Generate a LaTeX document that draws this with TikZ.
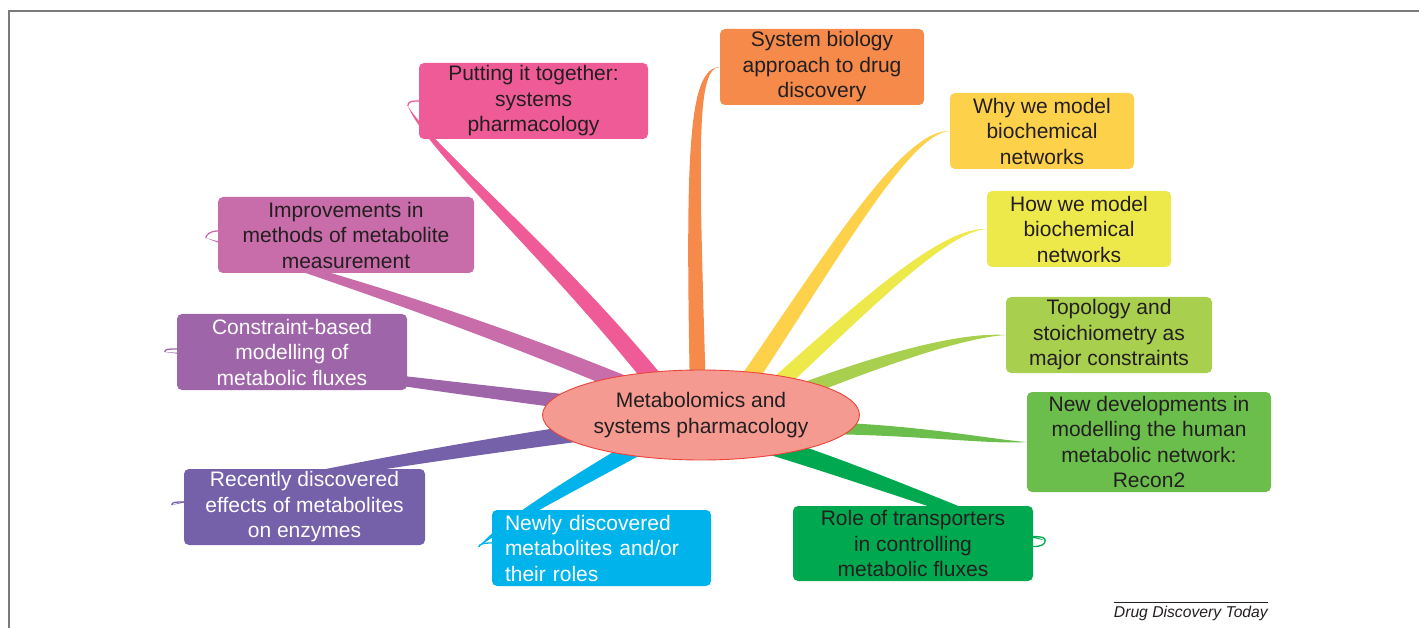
\documentclass[tikz,border=0pt]{standalone}
\usepackage{fontspec}
\setmainfont{Liberation Sans}
\usetikzlibrary{shapes.geometric, calc, backgrounds}

\definecolor{ink}{HTML}{231F20}
\definecolor{frame}{HTML}{7A7A7A}
\definecolor{cHub}{HTML}{F59A91}
\definecolor{cHubLine}{HTML}{E9433A}
\definecolor{cOrange}{HTML}{F58A4B}
\definecolor{cWhy}{HTML}{FDD14A}
\definecolor{cHow}{HTML}{EEE94B}
\definecolor{cTopo}{HTML}{A9CF4F}
\definecolor{cNewdev}{HTML}{6BBE4B}
\definecolor{cRole}{HTML}{00A94F}
\definecolor{cNewly}{HTML}{00B3EA}
\definecolor{cRecent}{HTML}{7461A9}
\definecolor{cConstraint}{HTML}{9E65A9}
\definecolor{cImprove}{HTML}{C86CAA}
\definecolor{cPutting}{HTML}{EF5B96}

% tapered branch: colour, start, control 1, control 2, end, half-width
\newcommand{\taper}[6]{%
  \fill[#1] ($#2+#6$) .. controls ($#3+0.85*#6$) and ($#4+0.45*#6$) .. #5
    .. controls ($#4-0.45*#6$) and ($#3-0.85*#6$) .. ($#2-#6$) -- cycle;}

\begin{document}
\begin{tikzpicture}[
    x=1pt, y=-1pt,
    box/.style={rectangle, rounded corners=5pt, align=center, inner sep=0pt, minimum height=76pt, text=ink, font=\fontsize{21}{25.5}\selectfont},
    hub/.style={ellipse, draw=cHubLine, fill=cHub, line width=0.9pt, minimum width=317pt, minimum height=90pt, inner sep=0pt, align=center, text=ink, font=\fontsize{21}{25.5}\selectfont},
    curl/.style={line width=1.3pt}
]
\useasboundingbox (0,0) rectangle (1419,628);

% Frame
\draw[frame, line width=1.2pt] (9,628) -- (9,11) -- (1419,11);

% Centre
\node[hub] (hub) at (701,415) {Metabolomics and\\systems pharmacology};

% Right side topics
\node[box, fill=cOrange, minimum width=204pt] (sysbio) at (822,67) {System biology\\approach to drug\\discovery};
\node[box, fill=cWhy, minimum width=184pt] (why) at (1042,131) {Why we model\\biochemical\\networks};
\node[box, fill=cHow, minimum width=184pt] (how) at (1079,229) {How we model\\biochemical\\networks};
\node[box, fill=cTopo, minimum width=206pt] (topo) at (1109,335) {Topology and\\stoichiometry as\\major constraints};
\node[box, fill=cNewdev, minimum width=244pt, minimum height=100pt] (newdev) at (1149,442) {New developments in\\modelling the human\\metabolic network:\\Recon2};
\node[box, fill=cRole, minimum width=240pt, minimum height=75pt] (role) at (913,543.5) {Role of transporters\\in controlling\\metabolic fluxes};

% Left side topics
\node[box, fill=cNewly, minimum width=219pt, text width=193pt, inner xsep=13pt, align=left, text=white] (newly) at (601.5,548) {Newly discovered\\metabolites and/or\\their roles};
\node[box, fill=cRecent, minimum width=241pt, text=white] (recent) at (304.5,507) {Recently discovered\\effects of metabolites\\on enzymes};
\node[box, fill=cConstraint, minimum width=230pt, text=white] (constraint) at (292,352) {Constraint-based\\modelling of\\metabolic fluxes};
\node[box, fill=cImprove, minimum width=256pt] (improve) at (346,235) {Improvements in\\methods of metabolite\\measurement};
\node[box, fill=cPutting, minimum width=229pt] (putting) at (533.5,101) {Putting it together:\\systems\\pharmacology};

% Branch tips outside the boxes
\coordinate (roleTip) at ($(role.east)+(12,-3)$);
\coordinate (newlyTip) at ($(newly.west)+(-13,-1)$);
\coordinate (recentTip) at ($(recent.west)+(-12,-2)$);
\coordinate (constraintTip) at ($(constraint.west)+(-12,0)$);
\coordinate (improveTip) at ($(improve.west)+(-12,3)$);
\coordinate (puttingTip) at ($(putting.west)+(-11,5)$);

% Credit
\node[anchor=base east, inner sep=0pt, text=ink, font=\itshape\fontsize{15.7}{18}\selectfont] (credit) at (1268,617) {Drug Discovery Today};
\draw[ink, line width=0.9pt] ([yshift=3pt]credit.north west) -- ([yshift=3pt]credit.north east);

% Branches
\begin{scope}[on background layer]
\taper{cOrange}{(hub.center)+(-3,-20)}{(692,150)}{(692,68)}{(sysbio.west)}{(8,0)}
\taper{cWhy}{(hub.center)+(34,-15)}{(830,260)}{(905,131)}{(why.west)}{(7,5)}
\taper{cHow}{(hub.center)+(54,-10)}{(850,320)}{(940,229)}{(how.west)}{(6,6)}
\taper{cTopo}{(hub.center)+(89,-20)}{(880,360)}{(960,335)}{(topo.west)}{(2,7)}
\taper{cNewdev}{(hub.center)+(119,13)}{(920,430)}{(990,442)}{(newdev.west)}{(0,6)}
\taper{cRole}{(hub.center)+(69,30)}{(880,480)}{(990,525)}{(roleTip)}{(-3,9)}
\taper{cNewly}{(hub.center)+(-51,25)}{(580,480)}{(500,525)}{(newlyTip)}{(5,7)}
\taper{cRecent}{(hub.center)+(-61,10)}{(480,445)}{(250,485)}{(recentTip)}{(1,9)}
\taper{cConstraint}{(hub.center)+(-61,-5)}{(500,395)}{(250,360)}{(constraintTip)}{(1,8)}
\taper{cImprove}{(hub.center)+(-51,-20)}{(450,310)}{(280,262)}{(improveTip)}{(3,-8)}
\taper{cPutting}{(hub.center)+(-31,-15)}{(560,260)}{(430,150)}{(puttingTip)}{(7,-6)}

% Curls at the tips
\draw[cPutting, curl] (puttingTip) .. controls +(0,-5) and +(-6,0) .. (putting.west);
\draw[cImprove, curl] ($(improve.west)+(0,-4)$) .. controls +(-8,0) and +(0,-3) .. (improveTip);
\draw[cConstraint, curl] ($(constraint.west)+(0,-3)$) .. controls +(-8,0) and +(0,-3) .. (constraintTip);
\draw[cRecent, curl] ($(recent.west)+(0,-5)$) .. controls +(-8,0) and +(0,-3) .. (recentTip);
\draw[cNewly, curl] ($(newly.west)+(0,-5)$) .. controls +(-9,0) and +(0,-3) .. (newlyTip);
\draw[cRole, curl] ($(role.east)+(0,-7)$) .. controls +(8,0) and +(0,-3) .. (roleTip) .. controls +(0,4) and +(8,0) .. ($(role.east)+(0,3)$);
\end{scope}

\end{tikzpicture}
\end{document}
